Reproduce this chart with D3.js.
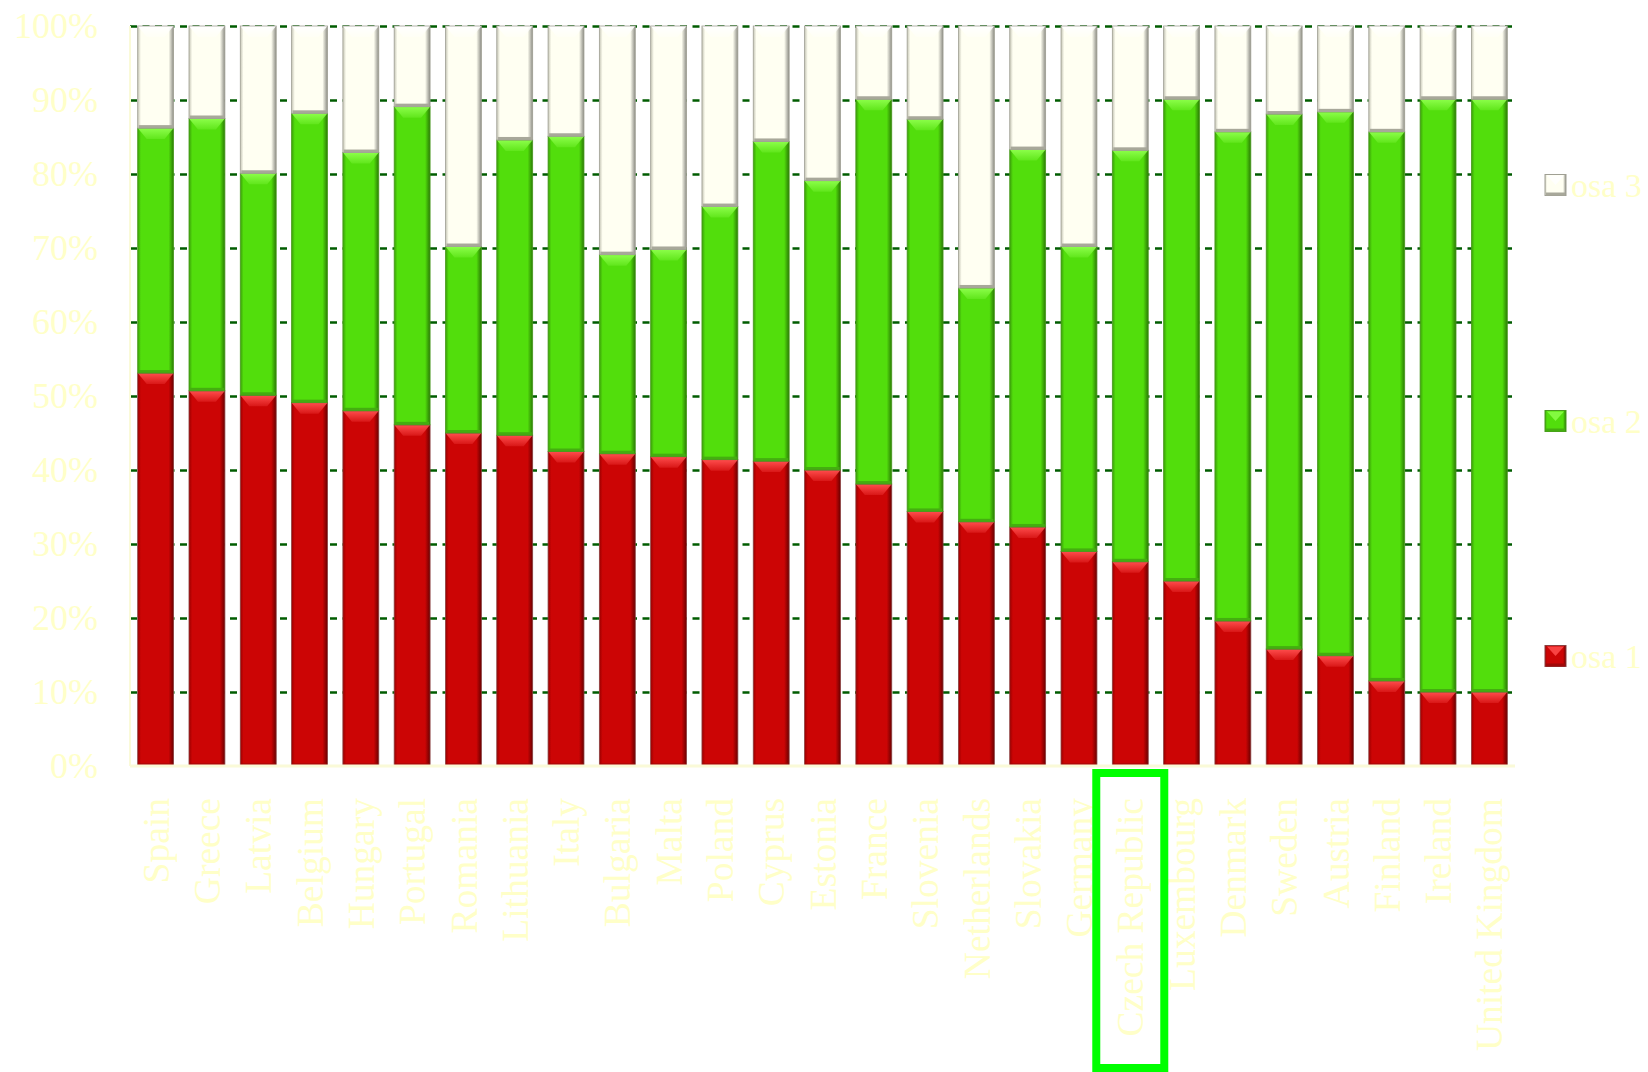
<!DOCTYPE html>
<html>
<head>
<meta charset="utf-8">
<script src="https://cdn.jsdelivr.net/npm/d3@7"></script>
<style>
  body { margin: 0; background: #fff; }
  text { font-family: "Liberation Serif", "DejaVu Serif", serif; }
</style>
</head>
<body>
<svg width="1648" height="1072"></svg>
<script>
var countries = ["Spain", "Greece", "Latvia", "Belgium", "Hungary", "Portugal", "Romania",
  "Lithuania", "Italy", "Bulgaria", "Malta", "Poland", "Cyprus", "Estonia", "France",
  "Slovenia", "Netherlands", "Slovakia", "Germany", "Czech Republic", "Luxembourg",
  "Denmark", "Sweden", "Austria", "Finland", "Ireland", "United Kingdom"];

var osa1 = [53.1, 50.7, 50.1, 49.1, 48.0, 46.1, 45.0, 44.7, 42.5, 42.2, 41.8, 41.4, 41.2, 40.0,
  38.1, 34.4, 33.0, 32.3, 29.0, 27.6, 25.0, 19.6, 15.8, 14.9, 11.5, 10.0, 10.0];
var osa2 = [33.1, 36.8, 30.0, 39.1, 34.9, 43.0, 25.2, 39.9, 42.6, 26.9, 28.0, 34.2, 43.2, 39.1,
  52.0, 53.0, 31.6, 51.0, 41.2, 55.6, 65.1, 66.1, 72.3, 73.5, 74.2, 80.1, 80.1];
var osa3 = [13.8, 12.5, 19.9, 11.8, 17.1, 10.9, 29.8, 15.4, 14.9, 30.9, 30.2, 24.4, 15.6, 20.9,
  9.9, 12.6, 35.4, 16.7, 29.8, 16.8, 9.9, 14.3, 11.9, 11.6, 14.3, 9.9, 9.9];

var seriesNames = ["osa 1", "osa 2", "osa 3"];
var yTicks = [0, 10, 20, 30, 40, 50, 60, 70, 80, 90, 100];
var highlighted = "Czech Republic";

var svg = d3.select("svg"),
    margin = {top: 26, right: 133, bottom: 306, left: 130},
    width = svg.attr("width") - margin.left - margin.right,
    height = svg.attr("height") - margin.top - margin.bottom,
    g = svg.append("g").attr("transform", "translate(" + margin.left + "," + margin.top + ")");

var labelColor = "#ffffc8";

// bevel look per series: base, dark edge, light top, dark bottom
var looks = {
  "osa 1": {edgeL: "#9a0000", main: "#cc0505", edgeR: "#6a0000", top: "#ff4d4d", bottom: "#a00808", border: "#8a4040"},
  "osa 2": {edgeL: "#3a9e08", main: "#52de0c", edgeR: "#2a7a04", top: "#8cff4a", bottom: "#44ae10", border: "#4a9a20"},
  "osa 3": {edgeL: "#c4c4b4", main: "#fffff2", edgeR: "#8c8c84", top: "#ffffff", bottom: "#a8a89a", border: "#a0a094"}
};

var defs = svg.append("defs");
seriesNames.forEach(function(s, i) {
  var lk = looks[s];
  var grad = defs.append("linearGradient").attr("id", "grad" + i)
    .attr("x1", "0").attr("x2", "1").attr("y1", "0").attr("y2", "0");
  grad.append("stop").attr("offset", "0").attr("stop-color", lk.edgeL);
  grad.append("stop").attr("offset", "0.09").attr("stop-color", lk.main);
  grad.append("stop").attr("offset", "0.86").attr("stop-color", lk.main);
  grad.append("stop").attr("offset", "1").attr("stop-color", lk.edgeR);
  var tg = defs.append("linearGradient").attr("id", "topgrad" + i)
    .attr("x1", "0").attr("x2", "0").attr("y1", "0").attr("y2", "1");
  tg.append("stop").attr("offset", "0").attr("stop-color", lk.top).attr("stop-opacity", 1);
  tg.append("stop").attr("offset", "1").attr("stop-color", lk.top).attr("stop-opacity", 0.25);
});

var table = countries.map(function(c, i) {
  return {country: c, "osa 1": osa1[i], "osa 2": osa2[i], "osa 3": osa3[i]};
});

var stack = d3.stack().keys(seriesNames);
var layers = stack(table);

var x = d3.scaleBand()
    .domain(countries)
    .range([0, width])
    .paddingInner(0.3)
    .paddingOuter(0.15);

var y = d3.scaleLinear().domain([0, 100]).range([height, 0]);

// grid + y labels
var yAxis = g.append("g")
  .attr("class", "axis axis--y")
  .call(d3.axisLeft(y).tickValues(yTicks).tickSize(-width).tickPadding(32)
    .tickFormat(function(d) { return d + "%"; }));
yAxis.select(".domain").remove();
yAxis.selectAll(".tick line")
  .attr("stroke", "#005c00")
  .attr("stroke-width", 2.6)
  .attr("stroke-dasharray", "7,5.5")
  .attr("opacity", function(d) { return d === 0 ? 0 : 1; });
yAxis.selectAll(".tick text")
  .attr("fill", labelColor)
  .style("font-size", "36px")
  .style("font-family", "Liberation Serif, serif");

// bars
var layer = g.selectAll(".layer")
  .data(layers)
  .enter().append("g")
  .attr("class", "layer");

var bw = x.bandwidth();

layer.each(function(L, li) {
  var lk = looks[L.key];
  var sel = d3.select(this).selectAll(".seg")
    .data(L)
    .enter().append("g")
    .attr("class", "seg");

  sel.append("rect")
    .attr("x", function(d) { return x(d.data.country); })
    .attr("y", function(d) { return y(d[1]); })
    .attr("width", bw)
    .attr("height", function(d) { return y(d[0]) - y(d[1]); })
    .attr("fill", "url(#grad" + li + ")");

  // top bevel
  sel.append("path")
    .attr("fill", "url(#topgrad" + li + ")")
    .attr("d", function(d) {
      var x0 = x(d.data.country), y0 = y(d[1]), h = Math.min(11, (y(d[0]) - y(d[1])) / 3);
      return "M" + x0 + "," + y0 + "H" + (x0 + bw) + "L" + (x0 + bw - 9) + "," + (y0 + h) +
        "H" + (x0 + 9) + "Z";
    });

  // bottom bevel shadow
  sel.append("rect")
    .attr("x", function(d) { return x(d.data.country) + 1; })
    .attr("y", function(d) { return y(d[0]) - 3; })
    .attr("width", bw - 2)
    .attr("height", 3)
    .attr("fill", lk.bottom)
    .attr("opacity", li === 0 ? 0.6 : 1);

  // thin side border
  sel.append("rect")
    .attr("x", function(d) { return x(d.data.country); })
    .attr("y", function(d) { return y(d[1]); })
    .attr("width", bw)
    .attr("height", function(d) { return y(d[0]) - y(d[1]); })
    .attr("fill", "none")
    .attr("stroke", lk.border)
    .attr("stroke-width", 0.8);
});

// pale axis lines
g.append("line")
  .attr("x1", 0).attr("x2", 0).attr("y1", 0).attr("y2", height)
  .attr("stroke", "#fafad8").attr("stroke-width", 2);
g.append("line")
  .attr("x1", 0).attr("x2", width).attr("y1", height).attr("y2", height)
  .attr("stroke", "#fafad8").attr("stroke-width", 3);

// x labels
g.append("g")
  .attr("class", "axis axis--x")
  .selectAll("text")
  .data(countries)
  .enter().append("text")
  .attr("transform", function(d) {
    return "translate(" + (x(d) + bw / 2) + "," + (height + 32) + ") rotate(-90)";
  })
  .attr("text-anchor", "end")
  .attr("dy", "0.35em")
  .attr("fill", labelColor)
  .style("font-size", "37.5px")
  .text(function(d) { return d; });

// highlight box
g.append("rect")
  .attr("x", x(highlighted) + bw / 2 - 34)
  .attr("y", height + 7)
  .attr("width", 68)
  .attr("height", 295)
  .attr("fill", "none")
  .attr("stroke", "#00ff00")
  .attr("stroke-width", 8);

// legend
var legendY = {"osa 3": 185, "osa 2": 421, "osa 1": 656};
var legend = svg.append("g").attr("class", "legend")
  .selectAll("g")
  .data(seriesNames)
  .enter().append("g")
  .attr("transform", function(d) { return "translate(1545," + legendY[d] + ")"; });

legend.append("rect")
  .attr("x", 0).attr("y", -10.5)
  .attr("width", 21).attr("height", 21)
  .attr("fill", function(d, i) { return "url(#grad" + i + ")"; })
  .attr("stroke", function(d) { return looks[d].border; })
  .attr("stroke-width", 1);
legend.append("path")
  .attr("d", "M2,-9.5H19L10.5,0Z")
  .attr("fill", function(d) { return looks[d].top; })
  .attr("opacity", 0.85);
legend.append("rect")
  .attr("x", 1).attr("y", 7.5).attr("width", 19).attr("height", 3)
  .attr("fill", function(d) { return looks[d].bottom; });

legend.append("text")
  .attr("x", 26)
  .attr("dy", "0.35em")
  .attr("fill", labelColor)
  .style("font-size", "34px")
  .text(function(d) { return d; });
</script>
</body>
</html>
